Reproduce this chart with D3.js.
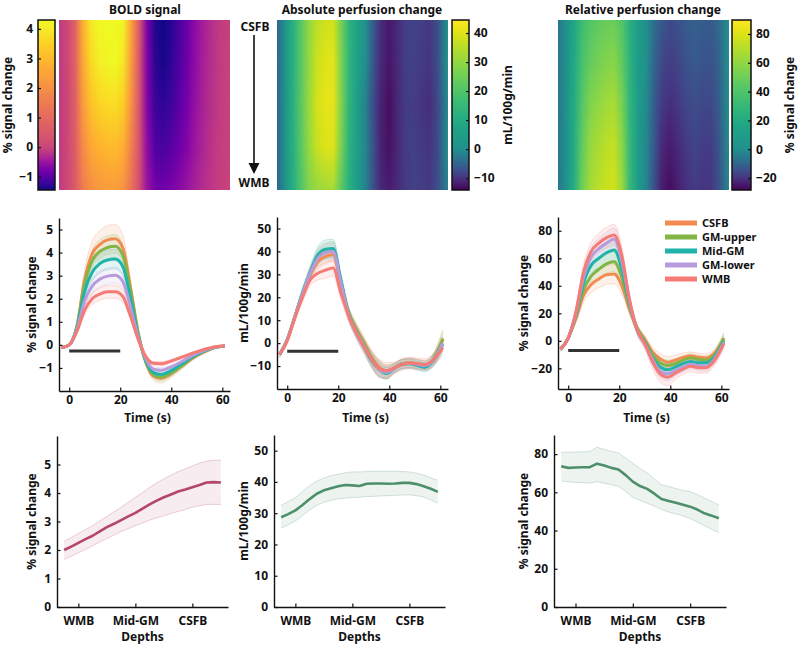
<!DOCTYPE html>
<html><head><meta charset="utf-8">
<script src="https://cdn.jsdelivr.net/npm/d3@7"></script>
<style>body{margin:0;background:#fff}svg{display:block}</style>
</head><body><svg id="c" width="800" height="647"></svg>
<script>
// ---------------- DATA ----------------
const times = [-3,0,3,6,9,12,15,18,21,24,27,30,33,36,39,42,45,48,51,54,57,61];
const depthNames = ["CSFB","GM-upper","Mid-GM","GM-lower","WMB"];
const depthColors = ["#f28a52","#82b446","#1fb3a9","#b79bdc","#f47b76"];

const boldMean = [
  [-0.12,0.0,0.8,2.8,3.95,4.35,4.55,4.6,4.2,2.5,0.55,-0.75,-1.35,-1.45,-1.32,-1.1,-0.85,-0.6,-0.4,-0.25,-0.12,-0.05],
  [-0.12,0.0,0.78,2.6,3.65,4.05,4.22,4.28,3.9,2.35,0.5,-0.72,-1.3,-1.4,-1.28,-1.07,-0.83,-0.58,-0.39,-0.24,-0.12,-0.05],
  [-0.12,0.0,0.72,2.3,3.15,3.52,3.68,3.72,3.4,2.05,0.42,-0.68,-1.2,-1.28,-1.17,-0.98,-0.76,-0.54,-0.36,-0.22,-0.11,-0.05],
  [-0.12,0.0,0.66,1.9,2.55,2.85,2.98,3.02,2.75,1.65,0.35,-0.6,-1.05,-1.1,-1.0,-0.85,-0.67,-0.48,-0.33,-0.2,-0.1,-0.05],
  [-0.12,0.0,0.58,1.5,2.0,2.2,2.3,2.3,2.1,1.25,0.25,-0.5,-0.8,-0.82,-0.74,-0.62,-0.5,-0.37,-0.26,-0.16,-0.08,-0.04]
];
const boldSem = [
  [0.05,0.05,0.2,0.45,0.55,0.6,0.62,0.62,0.55,0.35,0.15,0.12,0.18,0.2,0.18,0.15,0.12,0.1,0.08,0.06,0.05,0.05],
  [0.05,0.05,0.15,0.35,0.45,0.5,0.5,0.5,0.45,0.3,0.12,0.1,0.15,0.16,0.15,0.12,0.1,0.08,0.06,0.05,0.04,0.04],
  [0.04,0.04,0.12,0.3,0.38,0.4,0.42,0.42,0.38,0.25,0.1,0.08,0.12,0.13,0.12,0.1,0.08,0.06,0.05,0.04,0.04,0.04],
  [0.04,0.04,0.1,0.25,0.32,0.35,0.35,0.35,0.32,0.2,0.08,0.07,0.1,0.11,0.1,0.08,0.07,0.05,0.04,0.04,0.03,0.03],
  [0.04,0.04,0.08,0.2,0.25,0.27,0.28,0.28,0.25,0.15,0.07,0.06,0.08,0.09,0.08,0.07,0.06,0.05,0.04,0.03,0.03,0.03]
];
const absMean = [
  [-5,1.5,11.5,21.5,30,35.5,37.8,38.5,26,13.5,6.5,0.5,-6,-10.5,-12.3,-10.7,-9,-8.5,-9,-9.5,-7.5,1.5],
  [-5,1.5,11.5,21.5,30.5,37.5,40.2,40.8,27,13.5,6,0,-6.5,-11,-12.5,-10.8,-9,-8.7,-9.2,-9.8,-7.5,2],
  [-5,1.5,11.5,22,31,38.5,41,41.3,27.5,13,5,-1.5,-7.5,-11.5,-13.2,-11,-9.3,-9,-9.8,-10.5,-8,-0.5],
  [-5,1.5,11.5,21.5,30.5,37,39.5,40,26.5,12.5,5,-1,-7,-11.5,-12.8,-11,-9.2,-8.8,-9.3,-9.8,-7.8,0],
  [-5,1,11,20,27.5,30.5,31.8,32.8,22,12,4.5,-1.5,-7,-11,-12,-10.8,-9.3,-8.7,-9,-9.3,-7.5,-2]
];
const absSem = [
  [1,1,1.5,2,2.5,3,3,3,3,2.5,2.5,2.5,3,3,2.5,2,2,2,2,2,2.5,3.5],
  [1,1,1.5,2,2.5,3.5,3.5,3.5,3,2.5,2.5,2.5,3,3.5,3,2,2,2,2,2,2.5,4],
  [1,1,1.5,2,2.5,3.5,4,4,3.5,2.5,2.5,2.5,3,3,2.5,2,2,2,2,2,2.5,3],
  [1,1,1.5,2,2.5,3,3.5,3.5,3,2.5,2.5,2.5,3,3,2.5,2,2,2,2,2,2.5,3],
  [1,1,1.5,2,2.5,3,3.5,3.5,3,2.5,2.5,3,3.5,4,3.5,2.5,2.5,2.5,2.5,2.5,2.5,3]
];
const relMean = [
  [-6,2,16,33,41,45,48,48.5,40,23,9,1,-8,-13,-15.5,-14,-12,-11,-12,-12.5,-9.5,1.5],
  [-6,2,18,37,47,52,56,57.5,46,25,9,0,-10,-16,-18,-16.5,-14,-12.5,-13.5,-14,-11,2],
  [-6,2,19,42,55,60,64,66,52,27,8,-1,-12,-19,-21,-19,-16.5,-15,-16,-16,-12.5,0],
  [-6,2,20,46,61,67,71,74,58,29,8,-2,-13,-22,-24,-21.5,-19,-17,-18,-18.5,-14,-1],
  [-6,2,21,50,65,71,75,77,62,30,8,-2,-15,-24,-26.5,-23.5,-20.5,-18.5,-19.5,-19.5,-15,-2]
];
const relSem = [
  [1.5,1.5,3,5,6,6.5,7,7,6,4,3,3,3.5,4,4,3.5,3,3,3,3,3,3.5],
  [1.5,1.5,3,5,6,6.5,7,7,6,4,3,3,3.5,4,4,3.5,3,3,3,3,3,4],
  [1.5,1.5,3,5,6,7,7.5,7.5,6.5,4,3,3,4,4.5,4.5,3.5,3,3,3,3,3,3.5],
  [1.5,1.5,3,5.5,6.5,7.5,8,8,7,4.5,3,3.5,4.5,5,5,4,3.5,3.5,3.5,3.5,3.5,3.5],
  [1.5,1.5,3,5.5,6.5,7,7.5,7.5,6.5,4.5,3.5,4,5,6,6,4.5,4,4,4,4,3.5,3.5]
];
const stimulus = [0, 20];
const timeTicks = [0,20,40,60];
const boldTicks = [-1,0,1,2,3,4,5];
const absTicks = [-10,0,10,20,30,40,50];
const relTicks = [-20,0,20,40,60,80];
const boldCbTicks = [-1,0,1,2,3,4];
const absCbTicks = [-10,0,10,20,30,40];
const relCbTicks = [-20,0,20,40,60,80];

const depthPos = [1,1.5,2,2.5,3,3.5,4,4.5,5,5.5,6,6.5,7,7.5,8,8.5,9,9.5,10,10.5,11,11.5,12];
const depthTickPos = [2,6,10];
const depthTickLabels = ["WMB","Mid-GM","CSFB"];
const boldDepthMean = [2.0,2.12,2.25,2.38,2.5,2.65,2.8,2.92,3.05,3.18,3.3,3.45,3.6,3.73,3.85,3.95,4.05,4.12,4.2,4.28,4.37,4.38,4.37];
const boldDepthUpper = [2.3,2.44,2.58,2.72,2.85,3.02,3.18,3.34,3.5,3.68,3.85,4.02,4.2,4.35,4.5,4.63,4.75,4.85,4.95,5.05,5.12,5.15,5.15];
const boldDepthLower = [1.67,1.78,1.9,2.02,2.15,2.28,2.4,2.52,2.65,2.75,2.85,2.95,3.05,3.13,3.2,3.28,3.35,3.42,3.5,3.55,3.6,3.6,3.6];
const absDepthMean = [28.7,29.7,30.9,32.6,34.5,36.2,37.3,38.0,38.6,39.0,38.9,38.7,39.4,39.5,39.5,39.4,39.5,39.7,39.7,39.3,38.6,37.8,36.8];
const absDepthUpper = [32.5,33.7,35,36.9,38.8,40.3,41.2,42,42.5,42.9,43.2,43.2,43.3,43.4,43.4,43.4,43.4,43.3,43.2,42.8,42.2,41.3,40.5];
const absDepthLower = [25.2,26.3,27.5,29.2,31,32.5,33.5,34.1,34.6,34.8,35,35.1,35.3,35.4,35.5,35.6,35.7,35.8,35.9,35.6,35.2,34.2,33.2];
const relDepthMean = [73.6,72.8,73,73.1,73.2,75,74,72.8,71.9,69,65.6,63.3,61.8,59.3,56.5,55.5,54.5,53.5,52.5,51,49,47.8,46.4];
const relDepthUpper = [80.9,81,81.1,81.2,81.4,83.6,82.5,81.4,80.6,78,75.2,72.5,70.2,67,64,63,62,61,60.4,58.8,57,55.2,53.4];
const relDepthLower = [66,65.5,65.2,65,64.8,65.6,64.8,64,63.1,60.5,57.3,55.8,54.3,52.8,51.1,49.7,48.8,47.6,46.3,44.5,42.5,40.7,38.9];

// ---------------- DRAWING ----------------
const FONT = '"Noto Sans","Open Sans",sans-serif';
const svg = d3.select("#c");
const defs = svg.append("defs");

function txt(x, y, s, o = {}) {
  const t = svg.append("text").attr("x", x).attr("y", y).text(s)
    .attr("font-family", FONT).attr("font-weight", "bold")
    .attr("font-size", o.size || 12).attr("fill", "#111")
    .attr("text-anchor", o.anchor || "middle");
  if (o.rotate) t.attr("transform", `rotate(${o.rotate},${x},${y})`);
  return t;
}
function styleAxis(g, fs = 12) {
  g.select(".domain").attr("stroke", "#111").attr("stroke-width", 1.4);
  g.selectAll(".tick line").attr("stroke", "#111").attr("stroke-width", 1.2);
  g.selectAll(".tick text").attr("font-family", FONT).attr("font-weight", "bold")
    .attr("font-size", fs).attr("fill", "#111");
}
function makeCmap(interp, lo, hi) {
  const n = d3.scaleLinear().domain([lo, 0, hi]).range([0, 0.5, 1]).clamp(true);
  return v => interp(n(v));
}

let gid = 0;
function heatmap(means, cmap, x0, y0, w, h) {
  const id = "hm" + (gid++);
  const xs = d3.scaleLinear().domain([times[0], times[times.length - 1]]).range([0, 1]);
  means.forEach((row, i) => {
    const gr = defs.append("linearGradient").attr("id", `${id}r${i}`)
      .attr("gradientUnits", "userSpaceOnUse").attr("x1", x0).attr("x2", x0 + w).attr("y1", 0).attr("y2", 0);
    row.forEach((v, j) => gr.append("stop").attr("offset", xs(times[j])).attr("stop-color", cmap(v)));
  });
  const n = means.length, seg = h / (n - 1);
  const g = svg.append("g");
  for (let k = 0; k < n - 1; k++) {
    const ya = y0 + k * seg, hh = (k < n - 2) ? seg + 1 : seg;
    const mg = defs.append("linearGradient").attr("id", `${id}g${k}`)
      .attr("gradientUnits", "userSpaceOnUse").attr("x1", 0).attr("x2", 0).attr("y1", ya).attr("y2", ya + seg);
    mg.append("stop").attr("offset", 0).attr("stop-color", "#000");
    mg.append("stop").attr("offset", 1).attr("stop-color", "#fff");
    const m = defs.append("mask").attr("id", `${id}m${k}`).attr("maskUnits", "userSpaceOnUse")
      .attr("x", x0).attr("y", ya).attr("width", w).attr("height", hh);
    m.append("rect").attr("x", x0).attr("y", ya).attr("width", w).attr("height", hh).attr("fill", `url(#${id}g${k})`);
    g.append("rect").attr("x", x0).attr("y", ya).attr("width", w).attr("height", hh).attr("fill", `url(#${id}r${k})`);
    g.append("rect").attr("x", x0).attr("y", ya).attr("width", w).attr("height", hh)
      .attr("fill", `url(#${id}r${k + 1})`).attr("mask", `url(#${id}m${k})`);
  }
}

function colorbar(cmap, lo, hi, ticks, x0, y0, w, h, side) {
  const id = "cb" + (gid++);
  const ys = d3.scaleLinear().domain([lo, hi]).range([y0 + h, y0]);
  const gr = defs.append("linearGradient").attr("id", id).attr("x1", 0).attr("x2", 0).attr("y1", 0).attr("y2", 1);
  d3.range(0, 1.0001, 0.025).forEach(o => gr.append("stop").attr("offset", o).attr("stop-color", cmap(hi - o * (hi - lo))));
  svg.append("rect").attr("x", x0).attr("y", y0).attr("width", w).attr("height", h)
    .attr("fill", `url(#${id})`).attr("stroke", "#111").attr("stroke-width", 1.5);
  const base = side === "left" ? d3.axisLeft(ys) : d3.axisRight(ys);
  const ax = base.tickValues(ticks).tickSizeInner(-3).tickSizeOuter(0).tickPadding(5).tickFormat(d3.format("d"));
  const g = svg.append("g").attr("transform", `translate(${side === "left" ? x0 : x0 + w},0)`).call(ax);
  styleAxis(g, 12);
  g.select(".domain").remove();
}

// ---- Top row: heatmaps ----
const boldCmap = makeCmap(d3.interpolatePlasma, -1.45, 4.3);
const absCmap = makeCmap(d3.interpolateViridis, -14.1, 44.5);
const relCmap = makeCmap(d3.interpolateViridis, -28.3, 89.7);

heatmap(boldMean, boldCmap, 59, 20, 171, 170);
colorbar(boldCmap, -1.45, 4.3, boldCbTicks, 38, 20, 17, 170, "left");
txt(145, 14, "BOLD signal", { size: 12 });
txt(12, 105, "% signal change", { rotate: -90, size: 12 });

heatmap(absMean, absCmap, 277, 20, 171, 170);
colorbar(absCmap, -14.1, 44.5, absCbTicks, 452, 20, 17, 170, "right");
txt(362, 14, "Absolute perfusion change", { size: 12 });
txt(512, 105, "mL/100g/min", { rotate: -90, size: 12 });

heatmap(relMean, relCmap, 558, 20, 171, 170);
colorbar(relCmap, -28.3, 89.7, relCbTicks, 732, 20, 19, 170, "right");
txt(643, 14, "Relative perfusion change", { size: 12 });
txt(794, 105, "% signal change", { rotate: -90, size: 12 });

// depth arrow
txt(255, 31, "CSFB", { size: 12 });
txt(254, 187, "WMB", { size: 12 });
svg.append("line").attr("x1", 254).attr("x2", 254).attr("y1", 35).attr("y2", 166).attr("stroke", "#111").attr("stroke-width", 1.6);
svg.append("path").attr("d", "M248.5,163 L259.5,163 L254,174 Z").attr("fill", "#111");

// ---- Middle row: time courses ----
function timeChart(means, sems, yDomain, yTicks, left, top, w, h, stimY, ylab, ylabX) {
  const x = d3.scaleLinear().domain([-4, 63]).range([left, left + w]);
  const y = d3.scaleLinear().domain(yDomain).range([top + h, top]);
  const g = svg.append("g");
  const area = d3.area().curve(d3.curveMonotoneX).x(d => x(d.t)).y0(d => y(d.m - d.s)).y1(d => y(d.m + d.s));
  const line = d3.line().curve(d3.curveMonotoneX).x(d => x(d.t)).y(d => y(d.v));
  means.forEach((row, i) => {
    const data = times.map((t, j) => ({ t, m: row[j], s: sems[i][j] }));
    g.append("path").attr("d", area(data)).attr("fill", depthColors[i]).attr("fill-opacity", 0.13);
    g.append("path").attr("d", line(data.map(d => ({ t: d.t, v: d.m + d.s })))).attr("fill", "none")
      .attr("stroke", depthColors[i]).attr("stroke-opacity", 0.35).attr("stroke-width", 0.7);
    g.append("path").attr("d", line(data.map(d => ({ t: d.t, v: d.m - d.s })))).attr("fill", "none")
      .attr("stroke", depthColors[i]).attr("stroke-opacity", 0.35).attr("stroke-width", 0.7);
  });
  means.forEach((row, i) => {
    g.append("path").attr("d", line(times.map((t, j) => ({ t, v: row[j] })))).attr("fill", "none")
      .attr("stroke", depthColors[i]).attr("stroke-width", 3).attr("stroke-linejoin", "round");
  });
  g.append("line").attr("x1", x(stimulus[0])).attr("x2", x(stimulus[1])).attr("y1", y(stimY)).attr("y2", y(stimY))
    .attr("stroke", "#333").attr("stroke-width", 3);
  const gx = svg.append("g").attr("transform", `translate(0,${top + h})`)
    .call(d3.axisBottom(x).tickValues(timeTicks).tickSizeInner(-3.5).tickSizeOuter(0).tickPadding(4).tickFormat(d3.format("d")));
  styleAxis(gx);
  const gy = svg.append("g").attr("transform", `translate(${left},0)`)
    .call(d3.axisLeft(y).tickValues(yTicks).tickSizeInner(-3.5).tickSizeOuter(0).tickPadding(6).tickFormat(d3.format("d")));
  styleAxis(gy);
  txt(left + w / 2 + 3, 422, "Time (s)", { size: 12 });
  txt(ylabX, top + h / 2, ylab, { rotate: -90, size: 12 });
}
timeChart(boldMean, boldSem, [-2, 5.5], boldTicks, 59, 218, 171, 173, -0.27, "% signal change", 36);
timeChart(absMean, absSem, [-20, 55], absTicks, 277, 217, 171, 172, -3.5, "mL/100g/min", 248);
timeChart(relMean, relSem, [-35, 90], relTicks, 558, 217, 171, 172, -7, "% signal change", 528);

// legend
depthNames.forEach((name, i) => {
  const yy = 223 + i * 14;
  svg.append("line").attr("x1", 665).attr("x2", 697).attr("y1", yy).attr("y2", yy)
    .attr("stroke", depthColors[i]).attr("stroke-width", 5);
  txt(702, yy + 4, name, { anchor: "start", size: 11 });
});

// ---- Bottom row: depth profiles ----
function depthChart(mean, upper, lower, color, yDomain, yTicks, left, top, w, h, ylab, ylabX) {
  const x = d3.scaleLinear().domain([0.5, 12.5]).range([left, left + w]);
  const y = d3.scaleLinear().domain(yDomain).range([top + h, top]);
  const data = depthPos.map((p, i) => ({ p, m: mean[i], u: upper[i], l: lower[i] }));
  svg.append("path").attr("d", d3.area().x(d => x(d.p)).y0(d => y(d.l)).y1(d => y(d.u))(data))
    .attr("fill", color).attr("fill-opacity", 0.1);
  const ln = k => d3.line().x(d => x(d.p)).y(d => y(d[k]))(data);
  svg.append("path").attr("d", ln("u")).attr("fill", "none").attr("stroke", color).attr("stroke-opacity", 0.3).attr("stroke-width", 0.8);
  svg.append("path").attr("d", ln("l")).attr("fill", "none").attr("stroke", color).attr("stroke-opacity", 0.3).attr("stroke-width", 0.8);
  svg.append("path").attr("d", ln("m")).attr("fill", "none").attr("stroke", color).attr("stroke-width", 2.6).attr("stroke-linejoin", "round");
  const gx = svg.append("g").attr("transform", `translate(0,${top + h})`)
    .call(d3.axisBottom(x).tickValues(depthTickPos).tickFormat((d, i) => depthTickLabels[i])
      .tickSizeInner(-3.5).tickSizeOuter(0).tickPadding(9));
  styleAxis(gx);
  const gy = svg.append("g").attr("transform", `translate(${left},0)`)
    .call(d3.axisLeft(y).tickValues(yTicks).tickSizeInner(-3.5).tickSizeOuter(0).tickPadding(6).tickFormat(d3.format("d")));
  styleAxis(gy);
  txt(left + w / 2, 641, "Depths", { size: 12 });
  txt(ylabX, top + h / 2, ylab, { rotate: -90, size: 12 });
}
depthChart(boldDepthMean, boldDepthUpper, boldDepthLower, "#b5466b", [0, 6], [0,1,2,3,4,5], 57, 436, 171, 171, "% signal change", 36);
depthChart(absDepthMean, absDepthUpper, absDepthLower, "#4e8f6b", [0, 55], [0,10,20,30,40,50], 274, 435, 171, 172, "mL/100g/min", 248);
depthChart(relDepthMean, relDepthUpper, relDepthLower, "#4e8f6b", [0, 90], [0,20,40,60,80], 554, 435, 172, 172, "% signal change", 528);
</script>
</body></html>
